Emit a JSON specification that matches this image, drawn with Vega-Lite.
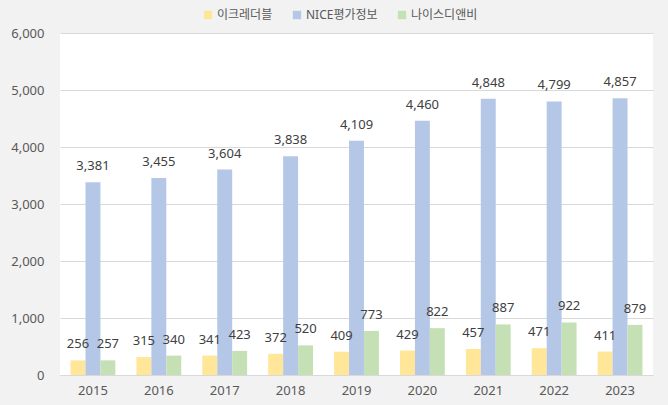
{
  "$schema": "https://vega.github.io/schema/vega-lite/v6.json",
  "width": 593,
  "height": 342,
  "autosize": {"type": "none"},
  "padding": {"left": 60, "top": 33, "right": 15, "bottom": 30},
  "background": "#f2f2f2",
  "view": {"fill": "white", "stroke": null},
  "config": {"font": "Noto Sans, Noto Sans CJK KR"},
  "data": {
    "values": [
      {"year": "2015", "series": "이크레더블", "value": 256},
      {"year": "2015", "series": "NICE평가정보", "value": 3381},
      {"year": "2015", "series": "나이스디앤비", "value": 257},
      {"year": "2016", "series": "이크레더블", "value": 315},
      {"year": "2016", "series": "NICE평가정보", "value": 3455},
      {"year": "2016", "series": "나이스디앤비", "value": 340},
      {"year": "2017", "series": "이크레더블", "value": 341},
      {"year": "2017", "series": "NICE평가정보", "value": 3604},
      {"year": "2017", "series": "나이스디앤비", "value": 423},
      {"year": "2018", "series": "이크레더블", "value": 372},
      {"year": "2018", "series": "NICE평가정보", "value": 3838},
      {"year": "2018", "series": "나이스디앤비", "value": 520},
      {"year": "2019", "series": "이크레더블", "value": 409},
      {"year": "2019", "series": "NICE평가정보", "value": 4109},
      {"year": "2019", "series": "나이스디앤비", "value": 773},
      {"year": "2020", "series": "이크레더블", "value": 429},
      {"year": "2020", "series": "NICE평가정보", "value": 4460},
      {"year": "2020", "series": "나이스디앤비", "value": 822},
      {"year": "2021", "series": "이크레더블", "value": 457},
      {"year": "2021", "series": "NICE평가정보", "value": 4848},
      {"year": "2021", "series": "나이스디앤비", "value": 887},
      {"year": "2022", "series": "이크레더블", "value": 471},
      {"year": "2022", "series": "NICE평가정보", "value": 4799},
      {"year": "2022", "series": "나이스디앤비", "value": 922},
      {"year": "2023", "series": "이크레더블", "value": 411},
      {"year": "2023", "series": "NICE평가정보", "value": 4857},
      {"year": "2023", "series": "나이스디앤비", "value": 879}
    ]
  },
  "encoding": {
    "x": {
      "field": "year",
      "type": "nominal",
      "scale": {"paddingInner": 0.32, "paddingOuter": 0.16},
      "axis": {
        "title": null,
        "labelAngle": 0,
        "ticks": false,
        "domainColor": "#d9d9d9",
        "labelPadding": 9,
        "labelFontSize": 13,
        "labelColor": "#595959"
      }
    },
    "xOffset": {
      "field": "series",
      "type": "nominal",
      "sort": ["이크레더블", "NICE평가정보", "나이스디앤비"]
    },
    "y": {
      "field": "value",
      "type": "quantitative",
      "scale": {"domain": [0, 6000]},
      "axis": {
        "title": null,
        "values": [0, 1000, 2000, 3000, 4000, 5000, 6000],
        "format": ",d",
        "domain": false,
        "ticks": false,
        "gridColor": "#d9d9d9",
        "labelPadding": 16,
        "labelFontSize": 13,
        "labelColor": "#595959"
      }
    }
  },
  "layer": [
    {
      "mark": {"type": "bar"},
      "encoding": {
        "color": {
          "field": "series",
          "type": "nominal",
          "scale": {
            "domain": ["이크레더블", "NICE평가정보", "나이스디앤비"],
            "range": ["#FFE699", "#B4C7E7", "#C5E0B4"]
          },
          "legend": {
            "title": null,
            "orient": "none",
            "legendX": 142,
            "legendY": -24,
            "direction": "horizontal",
            "symbolType": "square",
            "symbolSize": 70,
            "symbolStrokeWidth": 0,
            "labelFontSize": 12,
            "labelColor": "#595959",
            "columnPadding": 18,
            "labelOffset": 3
          }
        }
      }
    },
    {
      "mark": {"type": "text", "baseline": "bottom", "dy": -9, "fontSize": 13, "color": "#404040"},
      "encoding": {
        "text": {"field": "value", "type": "quantitative", "format": ",d"}
      }
    }
  ]
}
